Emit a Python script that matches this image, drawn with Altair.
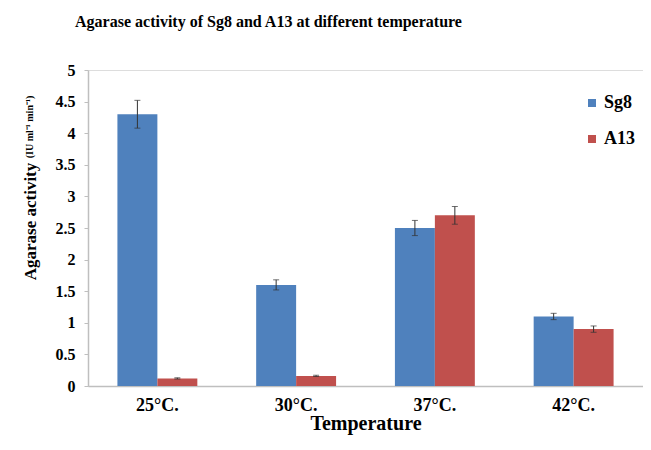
import altair as alt
import pandas as pd

temps = ["25°C.", "30°C.", "37°C.", "42°C."]
series_names = ["Sg8", "A13"]
sg8 = [4.3, 1.6, 2.5, 1.1]
sg8_err = [0.22, 0.08, 0.12, 0.05]
a13 = [0.12, 0.16, 2.7, 0.9]
a13_err = [0.01, 0.01, 0.14, 0.05]
colors = ["#4F81BD", "#C0504D"]
y_ticks = [0, 0.5, 1, 1.5, 2, 2.5, 3, 3.5, 4, 4.5, 5]

rows = []
for i, t in enumerate(temps):
    rows.append(dict(temp=t, series="Sg8", value=sg8[i], lo=sg8[i] - sg8_err[i], hi=sg8[i] + sg8_err[i]))
    rows.append(dict(temp=t, series="A13", value=a13[i], lo=a13[i] - a13_err[i], hi=a13[i] + a13_err[i]))
df = pd.DataFrame(rows)

FONT = "Liberation Serif"
GRAY = "#BFBFBF"

x = alt.X(
    "temp:N", sort=temps,
    scale=alt.Scale(paddingInner=0.424, paddingOuter=0.212),
    axis=alt.Axis(title="Temperature", labelAngle=0, ticks=False, domainColor=GRAY, domainWidth=1.5,
                  labelFont=FONT, labelFontWeight="bold", labelFontSize=18, labelColor="black",
                  labelPadding=10, titleFont=FONT, titleFontWeight="bold", titleFontSize=20,
                  titleColor="black", titlePadding=-1),
)
xo = alt.XOffset("series:N", sort=series_names,
                 scale=alt.Scale(domain=series_names, paddingInner=0, paddingOuter=0))
y_scale = alt.Scale(domain=[0, 5], nice=False)
y_axis = alt.Axis(title="Agarase activity", values=y_ticks, tickCount=11, format=".1~f", grid=False,
                  labelOverlap=False,
                  domainColor=GRAY, domainWidth=1.5, tickColor=GRAY, tickSize=4,
                  labelFont=FONT, labelFontWeight="bold", labelFontSize=16, labelColor="black",
                  labelPadding=9, titleFont=FONT, titleFontWeight="bold", titleFontSize=17,
                  titleColor="black", titleAngle=270, titleX=-58, titleY=151,
                  titleAlign="center", titleBaseline="middle")


def yenc(field):
    return alt.Y(field, scale=y_scale, axis=y_axis, title="Agarase activity")


bars = alt.Chart(df).mark_bar().encode(
    x=x, xOffset=xo, y=yenc("value:Q"),
    color=alt.Color("series:N", sort=series_names,
                    scale=alt.Scale(domain=series_names, range=colors),
                    legend=alt.Legend(title=None, orient="none", legendX=495, legendY=24,
                                      symbolType="square", symbolSize=64, symbolStrokeWidth=0,
                                      labelFont=FONT, labelFontWeight="bold", labelFontSize=18,
                                      labelColor="black", labelOffset=3, rowPadding=18)),
)

err = alt.Chart(df).mark_rule(color="#333333", strokeWidth=1).encode(
    x=x, xOffset=xo, y=yenc("lo:Q"), y2="hi:Q")
cap_hi = alt.Chart(df).mark_tick(color="#333333", size=6, thickness=1).encode(
    x=x, xOffset=xo, y=yenc("hi:Q"))
cap_lo = alt.Chart(df).mark_tick(color="#333333", size=6, thickness=1).encode(
    x=x, xOffset=xo, y=yenc("lo:Q"))

units = alt.Chart(alt.Data(values=[{"t": "(IU ml⁻¹ min⁻¹)"}])).mark_text(
    angle=270, font=FONT, fontWeight="bold", fontSize=10, color="black",
    align="center", baseline="middle",
).encode(x=alt.value(-58), y=alt.value(57), text="t:N")

chart = alt.layer(bars, err, cap_hi, cap_lo, units).resolve_axis(y="shared").properties(
    width=555, height=316,
    autosize=alt.AutoSizeParams(type="none"),
    padding={"left": 80, "top": 62, "right": 0, "bottom": 56},
    title=alt.Title("Agarase activity of Sg8 and A13 at different temperature",
                    font=FONT, fontSize=16, fontWeight="bold", color="black",
                    anchor="middle", dx=-97, offset=32),
).configure_view(stroke=None).configure(background="white")

chart.save("out.html", embed_options={"renderer": "svg", "actions": False})
